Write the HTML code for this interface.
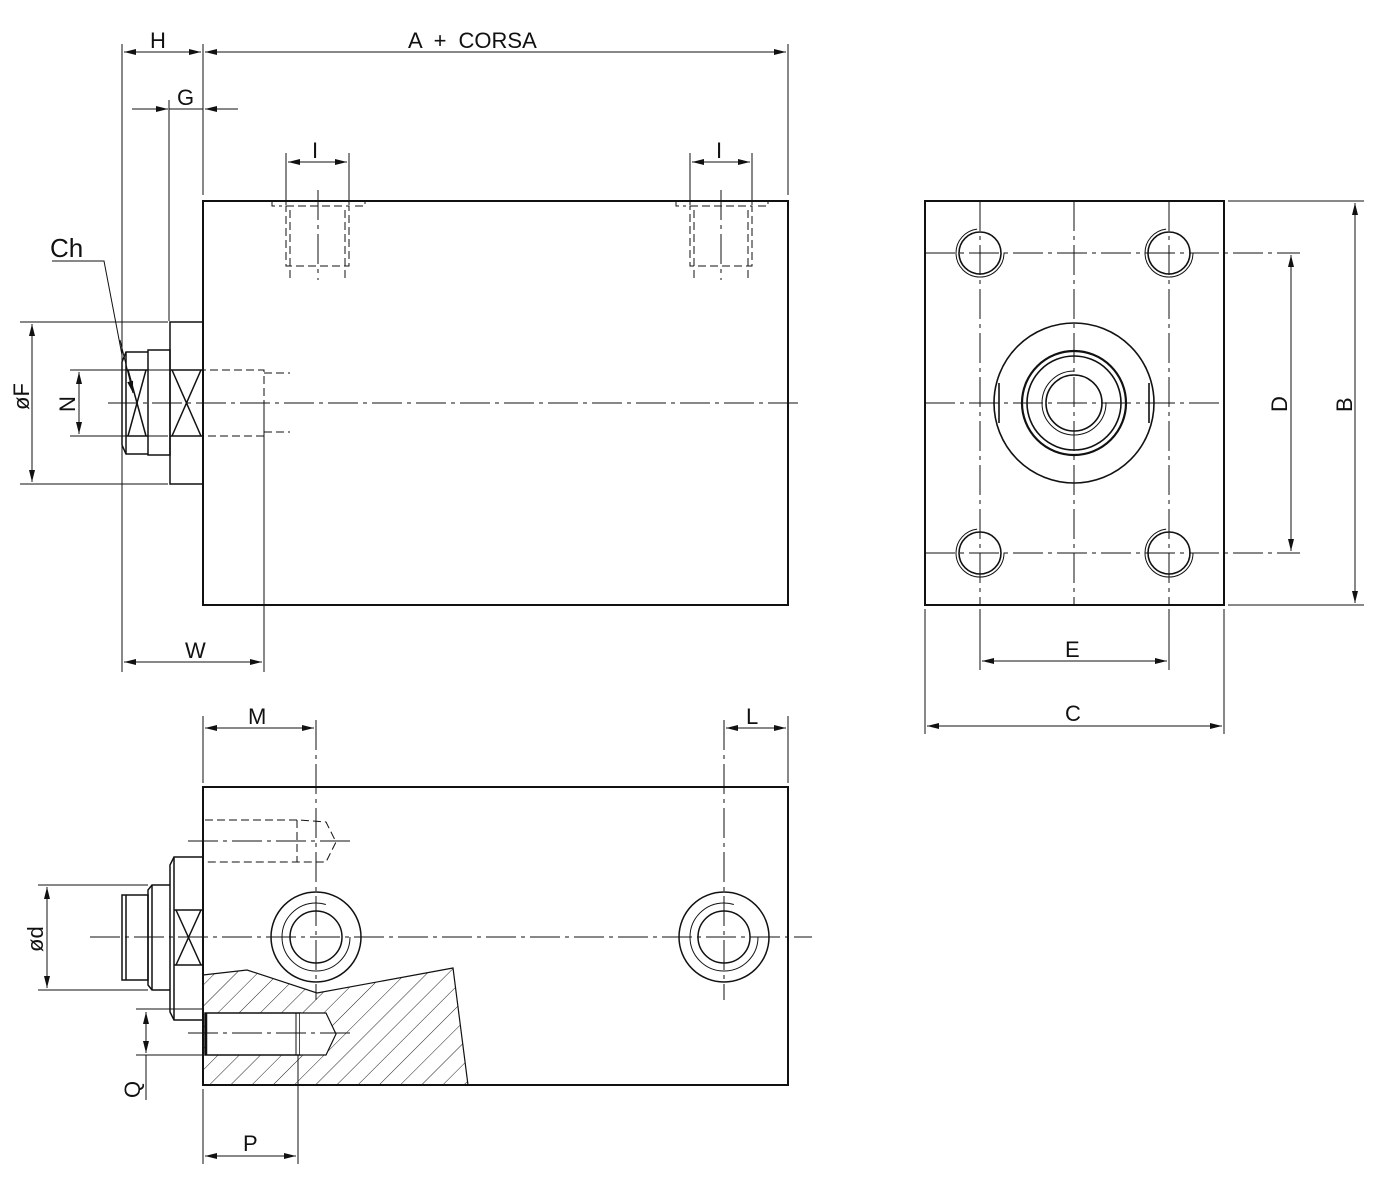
<!DOCTYPE html>
<html><head><meta charset="utf-8"><style>html,body{margin:0;padding:0;background:#fff}svg{display:block}</style></head><body>
<svg width="1400" height="1192" viewBox="0 0 1400 1192" xmlns="http://www.w3.org/2000/svg" font-family="Liberation Sans, sans-serif" fill="none" stroke="#111">
<defs>
<marker id="a" viewBox="0 0 12 6" refX="12" refY="3" markerWidth="12" markerHeight="6" orient="auto-start-reverse" markerUnits="userSpaceOnUse"><path d="M0,0 L12,3 L0,6z" fill="#111" stroke="none"/></marker>
<pattern id="h" patternUnits="userSpaceOnUse" width="15" height="15" patternTransform="rotate(45)"><line x1="0" y1="0" x2="0" y2="15" stroke="#222" stroke-width="1"/></pattern>
</defs>
<g stroke-width="1">
<line x1="122" y1="44" x2="122" y2="672"/>
<line x1="203" y1="44" x2="203" y2="195"/>
<line x1="788" y1="44" x2="788" y2="195"/>
<line x1="124" y1="52" x2="201" y2="52" marker-start="url(#a)" marker-end="url(#a)"/>
<line x1="205" y1="52" x2="786" y2="52" marker-start="url(#a)" marker-end="url(#a)"/>
<line x1="169" y1="100" x2="169" y2="321"/>
<line x1="132" y1="109" x2="168" y2="109" marker-end="url(#a)"/>
<line x1="238" y1="109" x2="205" y2="109" marker-end="url(#a)"/>
<line x1="169" y1="109" x2="203" y2="109"/>
<line x1="286" y1="153" x2="286" y2="205"/><line x1="349" y1="153" x2="349" y2="205"/>
<line x1="288" y1="162" x2="347" y2="162" marker-start="url(#a)" marker-end="url(#a)"/>
<line x1="690" y1="153" x2="690" y2="205"/><line x1="752" y1="153" x2="752" y2="205"/>
<line x1="692" y1="162" x2="750" y2="162" marker-start="url(#a)" marker-end="url(#a)"/>
<line x1="20" y1="322" x2="168" y2="322"/><line x1="20" y1="484" x2="168" y2="484"/>
<line x1="32" y1="324" x2="32" y2="482" marker-start="url(#a)" marker-end="url(#a)"/>
<line x1="70" y1="370" x2="168" y2="370"/><line x1="70" y1="436" x2="168" y2="436"/>
<line x1="79" y1="372" x2="79" y2="434" marker-start="url(#a)" marker-end="url(#a)"/>
<line x1="264" y1="400" x2="264" y2="672"/>
<line x1="124" y1="662" x2="262" y2="662" marker-start="url(#a)" marker-end="url(#a)"/>
<polyline points="52,261 104,261 122,355"/>
<line x1="120" y1="340" x2="133" y2="393" marker-end="url(#a)"/>
</g>
<g font-size="22" fill="#111" stroke="none">
<text x="150" y="48">H</text><text x="408" y="48" word-spacing="6">A + CORSA</text>
<text x="177" y="105">G</text>
<text x="312" y="158">I</text><text x="716" y="158">I</text>
<text x="50" y="257" font-size="26">Ch</text>
<text x="185" y="658">W</text>
<text transform="translate(29,410) rotate(-90)" font-size="22">øF</text>
<text transform="translate(75,412) rotate(-90)">N</text>
</g>
<rect x="203" y="201" width="585" height="404" stroke-width="2"/>
<g stroke-width="1.5">
<rect x="170" y="322" width="33" height="162"/>
<line x1="170" y1="370" x2="203" y2="370"/><line x1="170" y1="436" x2="203" y2="436"/>
<line x1="172" y1="370" x2="201" y2="436"/><line x1="201" y1="370" x2="172" y2="436"/>
<rect x="148" y="350" width="22" height="105"/>
<path d="M148,352 L126,352 L122,362 L122,445 L126,454 L148,454"/>
<line x1="126" y1="352" x2="126" y2="454"/>
<line x1="126" y1="370" x2="148" y2="370"/><line x1="126" y1="436" x2="148" y2="436"/>
<line x1="128" y1="370" x2="146" y2="436"/><line x1="146" y1="370" x2="128" y2="436"/>
</g>
<g stroke-width="1" stroke-dasharray="8,4">
<path d="M126,370 L264,370 L264,436 L126,436"/>
<line x1="264" y1="373" x2="290" y2="373"/><line x1="264" y1="432" x2="290" y2="432"/>
<path d="M272,201 V206 H282 M355,206 H365 V201"/>
<rect x="286" y="206" width="63" height="60"/>
<line x1="290" y1="210" x2="290" y2="278"/><line x1="345" y1="210" x2="345" y2="278"/>
<path d="M676,201 V206 H686 M758,206 H768 V201"/>
<rect x="690" y="206" width="62" height="60"/>
<line x1="694" y1="210" x2="694" y2="278"/><line x1="748" y1="210" x2="748" y2="278"/>
</g>
<g stroke-width="1" stroke-dasharray="30,5,4,5">
<line x1="108" y1="403" x2="802" y2="403"/>
<line x1="318" y1="190" x2="318" y2="280"/><line x1="721" y1="190" x2="721" y2="280"/>
</g>
<rect x="925" y="201" width="299" height="404" stroke-width="2"/>
<g stroke-width="1" stroke-dasharray="30,5,4,5">
<line x1="925" y1="253" x2="1300" y2="253"/><line x1="925" y1="553" x2="1300" y2="553"/>
<line x1="925" y1="403" x2="1224" y2="403"/>
<line x1="980" y1="201" x2="980" y2="605"/><line x1="1169" y1="201" x2="1169" y2="605"/>
<line x1="1074" y1="201" x2="1074" y2="605"/>
</g>
<g stroke-width="1">
<line x1="1228" y1="201" x2="1364" y2="201"/><line x1="1228" y1="605" x2="1364" y2="605"/>
<line x1="1355" y1="203" x2="1355" y2="603" marker-start="url(#a)" marker-end="url(#a)"/>
<line x1="1291" y1="255" x2="1291" y2="551" marker-start="url(#a)" marker-end="url(#a)"/>
<line x1="925" y1="609" x2="925" y2="734"/><line x1="1224" y1="609" x2="1224" y2="734"/>
<line x1="980" y1="609" x2="980" y2="670"/><line x1="1169" y1="609" x2="1169" y2="670"/>
<line x1="982" y1="661" x2="1167" y2="661" marker-start="url(#a)" marker-end="url(#a)"/>
<line x1="927" y1="726" x2="1222" y2="726" marker-start="url(#a)" marker-end="url(#a)"/>
</g>
<g font-size="22" fill="#111" stroke="none">
<text x="1065" y="657">E</text><text x="1065" y="721">C</text>
<text transform="translate(1287,412) rotate(-90)">D</text>
<text transform="translate(1352,412) rotate(-90)">B</text>
</g>
<g stroke-width="1.6">
<circle cx="980" cy="253" r="21"/><circle cx="1169" cy="253" r="21"/>
<circle cx="980" cy="553" r="21"/><circle cx="1169" cy="553" r="21"/>
<circle cx="1074" cy="403" r="80"/>
<circle cx="1074" cy="403" r="52" stroke-width="2.2"/><circle cx="1074" cy="403" r="47"/>
<circle cx="1074" cy="403" r="28"/>
<line x1="999" y1="383" x2="999" y2="423"/><line x1="1149" y1="383" x2="1149" y2="423"/>
</g>
<g stroke-width="1">
<circle cx="980" cy="253" r="24" stroke-dasharray="110,40"/><circle cx="1169" cy="253" r="24" stroke-dasharray="110,40"/>
<circle cx="980" cy="553" r="24" stroke-dasharray="110,40"/><circle cx="1169" cy="553" r="24" stroke-dasharray="110,40"/>
<circle cx="1074" cy="403" r="32" stroke-dasharray="150,50"/>
</g>
<polygon points="203,975 247,970 317,993 453,968 468,1085 203,1085" fill="url(#h)" stroke="#111" stroke-width="1.2"/>
<rect x="205" y="1013" width="95" height="42" fill="#fff" stroke-width="1.5"/>
<path d="M300,1013 H326 L336,1034 L326,1055 H300" fill="#fff" stroke-width="1.2"/>
<line x1="296" y1="1013" x2="296" y2="1055"/><line x1="206" y1="1013" x2="206" y2="1055" stroke-width="2.5"/>
<rect x="203" y="787" width="585" height="298" stroke-width="2"/>
<g stroke-width="1.5">
<path d="M203,857 H174 L170,865 V1012 L174,1020 H203"/>
<line x1="174" y1="857" x2="174" y2="1020"/>
<line x1="174" y1="910" x2="203" y2="910"/><line x1="174" y1="965" x2="203" y2="965"/>
<line x1="176" y1="910" x2="201" y2="965"/><line x1="201" y1="910" x2="176" y2="965"/>
<path d="M170,885 H152 L148,890 V985 L152,990 H170"/><line x1="152" y1="885" x2="152" y2="990"/>
<rect x="122" y="895" width="26" height="85"/><line x1="126" y1="895" x2="126" y2="980"/>
<circle cx="316" cy="937" r="45"/><circle cx="316" cy="937" r="26"/>
<circle cx="724" cy="937" r="45"/><circle cx="724" cy="937" r="26"/>
</g>
<g stroke-width="1">
<circle cx="316" cy="937" r="34" stroke-dasharray="170,50"/>
<circle cx="724" cy="937" r="34" stroke-dasharray="170,50"/>
</g>
<g stroke-width="1" stroke-dasharray="8,4">
<path d="M205,820 H300 L326,822 L336,842 L326,862 H300 H205"/>
<line x1="297" y1="820" x2="297" y2="862"/>
</g>
<g stroke-width="1" stroke-dasharray="30,5,4,5">
<line x1="90" y1="937" x2="812" y2="937"/>
<line x1="188" y1="841" x2="352" y2="841"/>
<line x1="188" y1="1033" x2="350" y2="1033"/>
<line x1="316" y1="720" x2="316" y2="1000"/>
<line x1="724" y1="720" x2="724" y2="1000"/>
</g>
<g stroke-width="1">
<line x1="203" y1="716" x2="203" y2="783"/><line x1="788" y1="716" x2="788" y2="783"/>
<line x1="205" y1="728" x2="314" y2="728" marker-start="url(#a)" marker-end="url(#a)"/>
<line x1="726" y1="728" x2="786" y2="728" marker-start="url(#a)" marker-end="url(#a)"/>
<line x1="38" y1="885" x2="148" y2="885"/><line x1="38" y1="990" x2="148" y2="990"/>
<line x1="47" y1="887" x2="47" y2="988" marker-start="url(#a)" marker-end="url(#a)"/>
<line x1="136" y1="1009" x2="203" y2="1009"/><line x1="136" y1="1055" x2="203" y2="1055"/>
<line x1="146" y1="1012" x2="146" y2="1053" marker-start="url(#a)" marker-end="url(#a)"/>
<line x1="146" y1="1055" x2="146" y2="1100"/>
<line x1="203" y1="1089" x2="203" y2="1164"/><line x1="298" y1="1055" x2="298" y2="1164"/>
<line x1="205" y1="1156" x2="296" y2="1156" marker-start="url(#a)" marker-end="url(#a)"/>
</g>
<g font-size="22" fill="#111" stroke="none">
<text x="248" y="724">M</text><text x="746" y="724">L</text>
<text x="243" y="1151">P</text>
<text transform="translate(43,952) rotate(-90)">ød</text>
<text transform="translate(140,1098) rotate(-90)">Q</text>
</g>
</svg>
</body></html>
